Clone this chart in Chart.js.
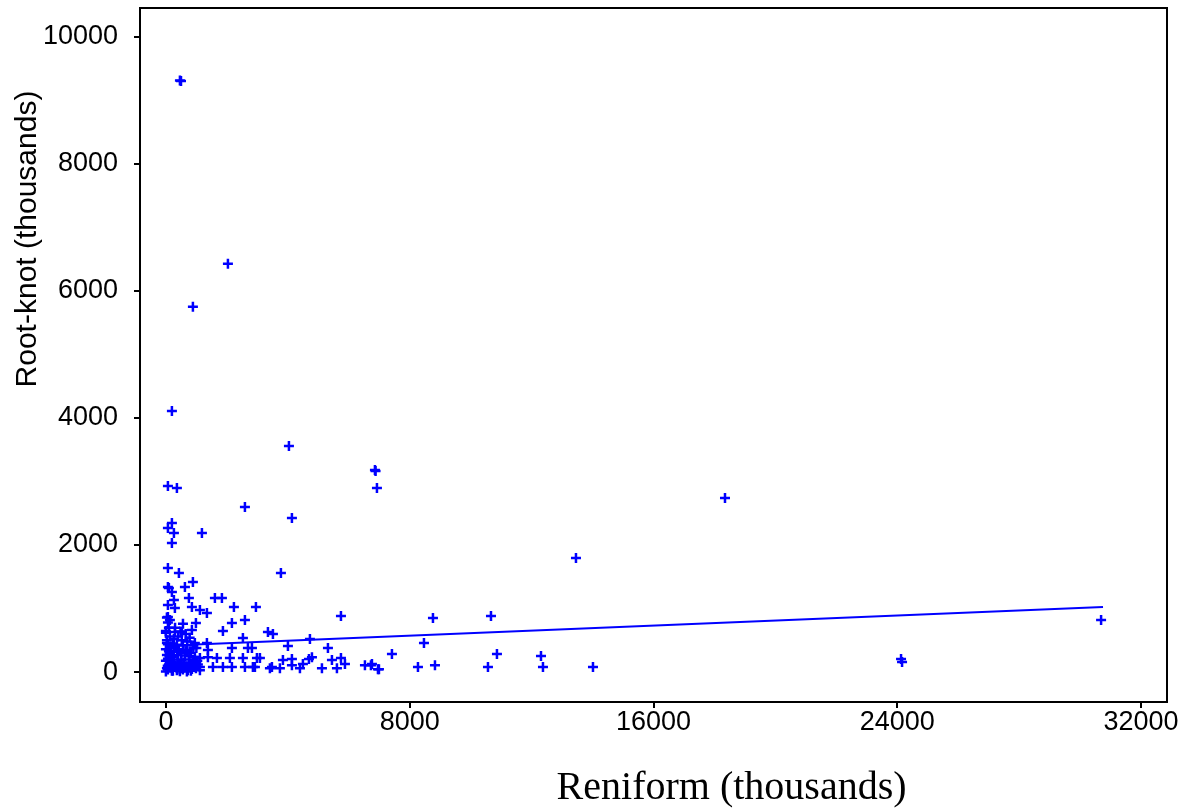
<!DOCTYPE html>
<html>
<head>
<meta charset="utf-8">
<script src="https://cdn.jsdelivr.net/npm/chart.js@4/dist/chart.umd.min.js"></script>
<style>
  body { margin: 0; background: #fff; }
</style>
</head>
<body>
<canvas id="scatter" width="1184" height="810"></canvas>
<script>
// values (thousands)
const reniform = [
  460, 495, 2035, 886, 197, 4037, 6859, 6880, 6925, 18346, 66, 361, 2593, 4135,
  197, 66, 263, 1182, 197, 13456, 3774, 66, 427, 886, 66, 624,
  98, 197, 755, 263, 66, 295, 853, 1608, 1838, 2232, 2954, 1116, 1346, 66, 131,
  985, 2166, 2593, 5744, 8763, 10667,
  853, 0, 295, 525, 1871, 3348, 3512, 2527, 4726, 33, 4004, 8468, 1346, 1378,
  2166, 2691, 2823, 5317, 12308, 7417, 10863,
  1378, 1674, 2100, 2527, 2987, 1116, 1116, 1543, 1871, 2166, 2593, 2855,
  3085, 3840, 4135, 4792, 4693, 5448, 5744, 5875, 4135, 4496, 3479, 3741, 4398,
  5120, 5612, 2921, 3413, 6531, 6728, 6958, 6761, 6991, 8271, 8829, 10568,
  12373, 14014, 24123, 24156, 30687,
  33, 66, 98, 0, 131, 33, 66, 164, 0, 98, 131, 33, 197, 66, 0, 164, 98, 131, 33,
  66, 197, 0,
  230, 295, 361, 427, 492, 558, 624, 689, 755, 821, 886, 952, 1050,
  263, 328, 394, 459, 525, 591, 656, 722, 788, 853, 919, 985,
  230, 361, 459, 558, 689, 821, 1116,
  260, 400, 520, 700, 900, 1000,
  300, 480, 560, 650, 780, 950,
  120, 250, 380, 510, 640, 770, 900, 1030,
  60, 190, 320, 450, 580, 710, 840, 970
];
const rootKnot = [
  9310, 9300, 6425, 5750, 4110, 3560, 3182, 3166, 2898, 2741, 2930, 2898, 2599, 2426,
  2347, 2268, 2189, 2189, 2032, 1796, 1559, 1638, 1559, 1418, 1339, 1339,
  1323, 1260, 1166, 1134, 1055, 1008, 1024, 1166, 1166, 1024, 1024, 977, 929, 866, 819,
  772, 772, 819, 882, 851, 882,
  662, 646, 630, 630, 646, 630, 599, 536, 520, 457, 410, 457, 457, 347,
  378, 378, 378, 378, 252, 284, 284,
  236, 221, 221, 221, 221, 221, 79, 79, 79, 79, 79, 79,
  221, 189, 205, 236, 205, 189, 221, 126, 110, 126, 79, 63, 63,
  63, 63, 79, 63, 110, 110, 47, 126, 47, 79, 110, 79,
  79, 79, 205, 158, 819,
  860, 780, 700, 620, 560, 500, 440, 400, 360, 330, 300, 270, 240, 210, 180, 150, 120, 90, 60,
  40, 20, 10,
  450, 380, 430, 350, 300, 420, 260, 350, 200, 300, 160, 240, 120,
  150, 80, 200, 120, 60, 150, 90, 30, 110, 50, 180, 60,
  20, 30, 15, 40, 10, 20, 30,
  520, 560, 500, 480, 420, 380,
  700, 640, 760, 600, 540, 460,
  250, 330, 270, 190, 330, 250, 380, 180,
  100, 60, 110, 40, 130, 70, 100, 150
];

// fitted line, end points
const fitX = [0, 30750];
const fitY = [415, 1025];

const xTicks = [0, 8000, 16000, 24000, 32000];
const yTicks = [0, 2000, 4000, 6000, 8000, 10000];

const blue = "#0000ff";

const frame = {
  id: "frame",
  afterDraw(chart) {
    const { ctx, chartArea: a } = chart;
    ctx.save();
    ctx.strokeStyle = "#000";
    ctx.lineWidth = 2;
    ctx.strokeRect(a.left, a.top, a.right - a.left, a.bottom - a.top);
    ctx.fillStyle = "#000";
    ctx.textAlign = "center";
    ctx.textBaseline = "middle";
    ctx.font = '40px "Liberation Serif"';
    ctx.fillText("Reniform (thousands)", a.left + (a.right - a.left) * 0.576, a.bottom + 86);
    ctx.translate(a.left - 112, a.top + 231);
    ctx.rotate(-Math.PI / 2);
    ctx.font = '30px "Liberation Sans"';
    ctx.fillText("Root-knot (thousands)", 0, 0);
    ctx.restore();
  },
};

new Chart(document.getElementById("scatter"), {
  type: "scatter",
  data: {
    datasets: [
      {
        label: "samples",
        data: reniform.map((x, i) => ({ x: x, y: rootKnot[i] })),
        pointStyle: "cross",
        pointRadius: 5,
        borderWidth: 2.5,
        borderColor: blue,
        backgroundColor: blue,
      },
      {
        label: "fit",
        data: fitX.map((x, i) => ({ x: x, y: fitY[i] })),
        showLine: true,
        pointRadius: 0,
        borderWidth: 2,
        borderColor: blue,
      },
    ],
  },
  plugins: [frame],
  options: {
    responsive: false,
    animation: false,
    layout: { padding: { top: 8, right: 17, left: 0, bottom: 0 } },
    plugins: {
      legend: { display: false },
      tooltip: { enabled: false },
    },
    scales: {
      x: {
        type: "linear",
        min: -850,
        max: 32850,
        afterBuildTicks: (s) => { s.ticks = xTicks.map((v) => ({ value: v })); },
        afterFit: (s) => { s.height = 108; s.paddingLeft = 0; s.paddingRight = 0; },
        grid: { drawOnChartArea: false, tickLength: 6, color: "#000", lineWidth: 2 },
        border: { display: true, color: "#000", width: 2 },
        ticks: {
          color: "#000",
          padding: -2,
          maxRotation: 0,
          callback: (v) => String(v),
          font: { family: "Liberation Sans", size: 27 },
        },
      },
      y: {
        type: "linear",
        min: -470,
        max: 10450,
        afterBuildTicks: (s) => { s.ticks = yTicks.map((v) => ({ value: v })); },
        afterFit: (s) => { s.width = 140; s.paddingTop = 0; s.paddingBottom = 0; },
        grid: { drawOnChartArea: false, tickLength: 6, color: "#000", lineWidth: 2 },
        border: { display: true, color: "#000", width: 2 },
        ticks: {
          color: "#000",
          padding: 16,
          callback: (v) => String(v),
          font: { family: "Liberation Sans", size: 27 },
        },
      },
    },
  },
});
</script>
</body>
</html>
